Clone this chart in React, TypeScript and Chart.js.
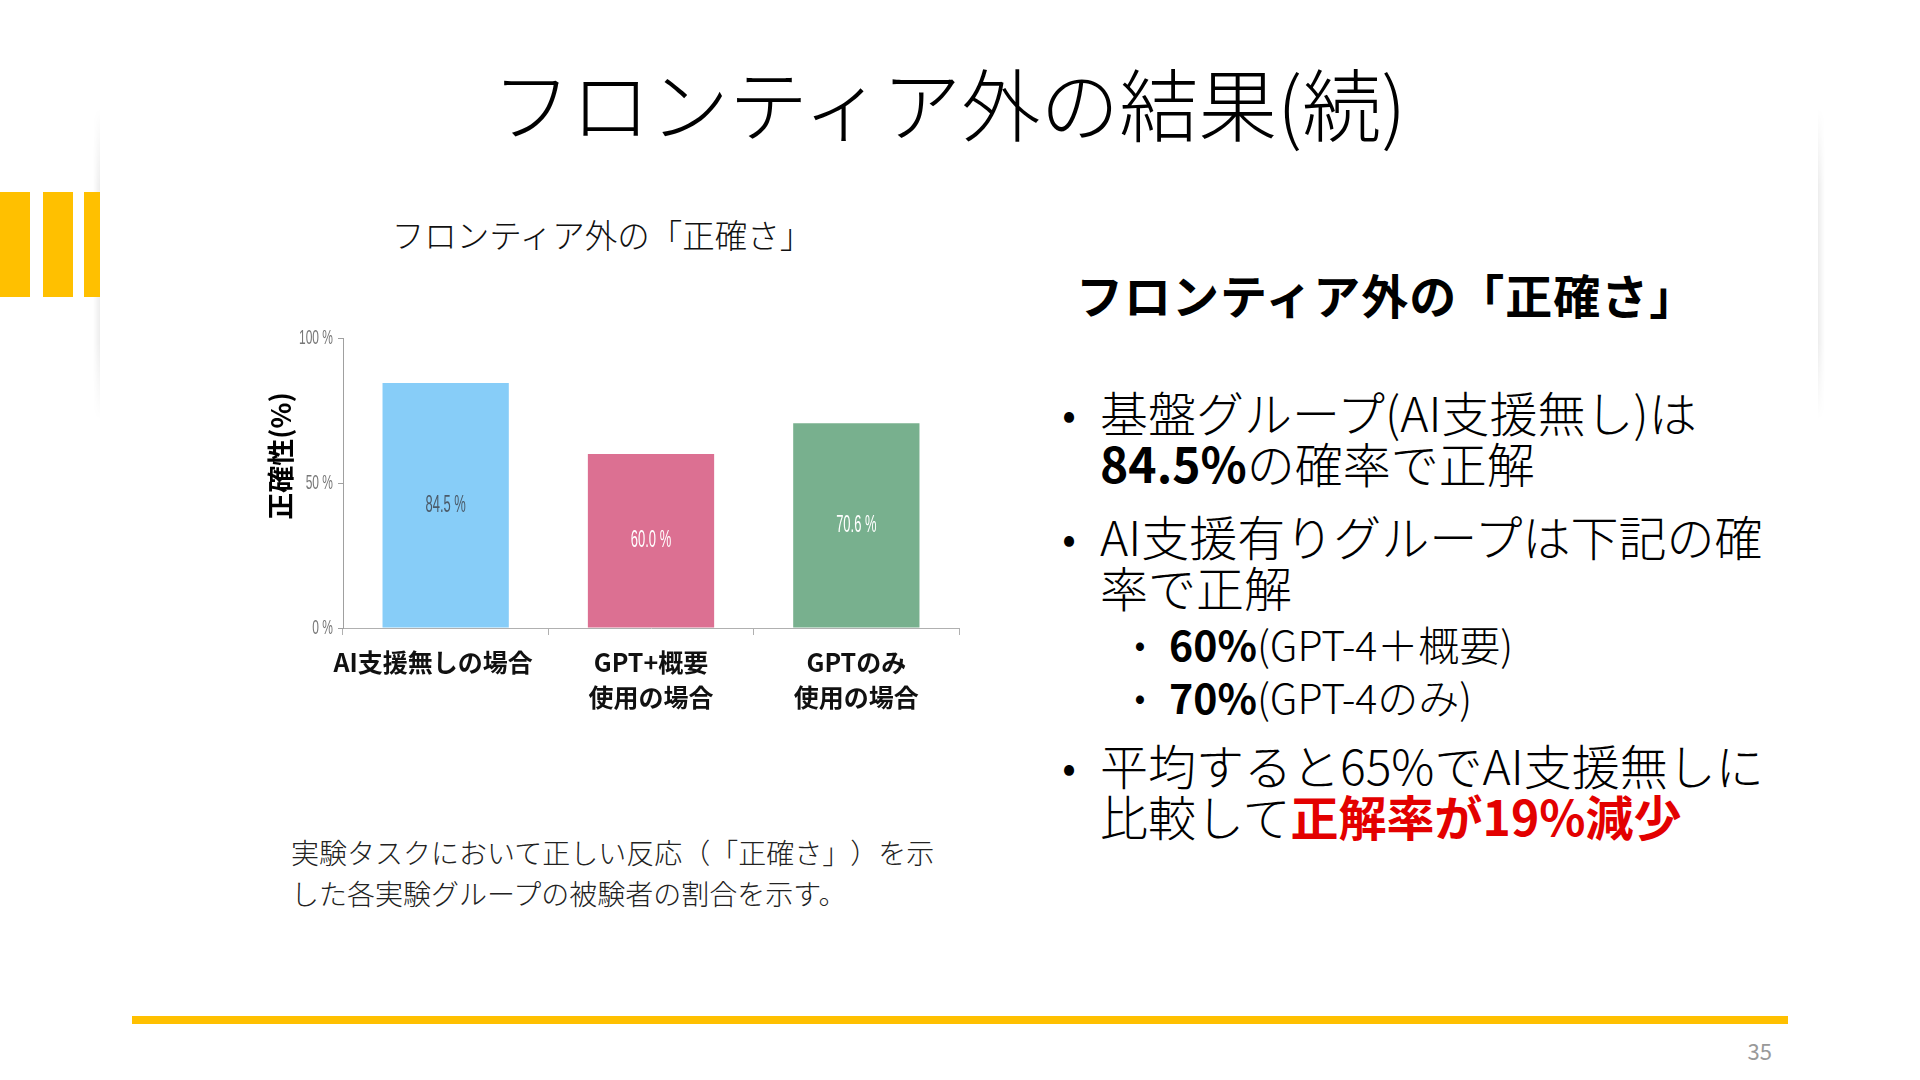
import React, { useEffect, useRef } from 'react';
import { Chart, registerables, type ChartConfiguration, type Plugin } from 'chart.js';

Chart.register(...registerables);

// Chart data
const categories: string[][] = [['AI支援無しの場合　'], ['GPT+概要', '使用の場合'], ['GPTのみ', '使用の場合']];
const accuracy = [84.5, 60.0, 70.6];
const barColors = ['#87cdf8', '#dc7092', '#78b08e'];
const valueLabelColors = ['#4b5a68', '#ffffff', '#ffffff'];
const yMin = 0;
const yMax = 100;
const yStep = 50;

const JP = "'Noto Sans CJK JP', 'Noto Sans', sans-serif";
const SANS = "'Liberation Sans', Arial, sans-serif";
const GOLD = '#ffc000';

// The slide uses a very condensed face for numbers; squeeze the text horizontally
const drawNarrow = (
  ctx: CanvasRenderingContext2D,
  text: string,
  x: number,
  y: number,
  align: CanvasTextAlign,
  squeeze: number
) => {
  ctx.save();
  ctx.translate(x, y);
  ctx.scale(squeeze, 1);
  ctx.textAlign = align;
  ctx.fillText(text, 0, 0);
  ctx.restore();
};

// Value in the middle of each bar
const valueLabels: Plugin<'bar'> = {
  id: 'valueLabels',
  afterDatasetsDraw(chart) {
    const { ctx } = chart;
    const meta = chart.getDatasetMeta(0);
    ctx.save();
    ctx.font = `24px ${SANS}`;
    ctx.textBaseline = 'middle';
    meta.data.forEach((bar, i) => {
      const { x, y, base } = bar.getProps(['x', 'y', 'base'], true) as { x: number; y: number; base: number };
      ctx.fillStyle = valueLabelColors[i];
      drawNarrow(ctx, `${accuracy[i].toFixed(1)} %`, x, (y + base) / 2, 'center', 0.54);
    });
    ctx.restore();
  }
};

// Condensed y tick labels placed from the y scale's own ticks
const narrowYTicks: Plugin<'bar'> = {
  id: 'narrowYTicks',
  afterDraw(chart) {
    const scale = chart.scales.y;
    const { ctx } = chart;
    ctx.save();
    ctx.font = `21px ${SANS}`;
    ctx.fillStyle = '#777';
    ctx.textBaseline = 'middle';
    scale.ticks.forEach((t) => {
      drawNarrow(ctx, `${t.value} %`, scale.right - 10, scale.getPixelForValue(t.value), 'right', 0.57);
    });
    ctx.restore();
  }
};

const AccuracyChart: React.FC = () => {
  const canvasRef = useRef<HTMLCanvasElement>(null);

  useEffect(() => {
    if (!canvasRef.current) return;
    const config: ChartConfiguration<'bar', number[], string[]> = {
      type: 'bar',
      data: {
        labels: categories,
        datasets: [
          {
            data: accuracy,
            backgroundColor: barColors,
            borderWidth: 0,
            categoryPercentage: 1,
            barPercentage: 0.615
          }
        ]
      },
      options: {
        responsive: true,
        maintainAspectRatio: false,
        animation: false,
        layout: { padding: { left: 1, right: 11, top: 18, bottom: 0 } },
        plugins: {
          legend: { display: false },
          tooltip: { enabled: false }
        },
        scales: {
          x: {
            grid: {
              drawOnChartArea: false,
              drawTicks: true,
              tickLength: 7,
              color: '#b0b0b0'
            },
            border: { display: true, color: '#b0b0b0', width: 1 },
            ticks: {
              color: '#111',
              padding: 10,
              maxRotation: 0,
              autoSkip: false,
              font: { family: JP, size: 25, weight: 'bold', lineHeight: 1.4 }
            },
            afterFit: (scale) => {
              scale.height = 102;
            }
          },
          y: {
            min: yMin,
            max: yMax,
            grid: {
              drawOnChartArea: false,
              drawTicks: true,
              tickLength: 5,
              color: '#a0a0a0'
            },
            border: { display: true, color: '#a0a0a0', width: 1 },
            ticks: {
              stepSize: yStep,
              display: false
            },
            title: {
              display: true,
              // leading ideographic spaces lift the visible label toward the top, as on the slide
              text: '　　正確性(%)',
              color: '#000',
              padding: { top: 4, bottom: 0 },
              font: { family: JP, size: 27, weight: 'bold', lineHeight: 1.2 }
            },
            afterFit: (scale) => {
              scale.width = 82;
            }
          }
        }
      },
      plugins: [valueLabels, narrowYTicks]
    };
    const chart = new Chart(canvasRef.current, config);
    return () => chart.destroy();
  }, []);

  return (
    <div style={{ position: 'absolute', left: 260, top: 320, width: 710, height: 410 }}>
      <canvas ref={canvasRef} />
    </div>
  );
};

const Bullet: React.FC<{ size: number; top: number }> = ({ size, top }) => (
  <span
    style={{
      position: 'absolute',
      left: 0,
      top,
      width: 20,
      textAlign: 'center',
      fontSize: size,
      lineHeight: 1,
      fontWeight: 400
    }}
  >
    •
  </span>
);

export default function App() {
  const abs = (left: number, top: number, extra: React.CSSProperties = {}): React.CSSProperties => ({
    position: 'absolute',
    left,
    top,
    whiteSpace: 'nowrap',
    ...extra
  });

  const para = (top: number): React.CSSProperties =>
    abs(1059, top, { fontSize: 48, lineHeight: '51px', fontWeight: 300, color: '#000' });

  return (
    <div
      style={{
        position: 'absolute',
        left: 0,
        top: 0,
        width: 1920,
        height: 1080,
        overflow: 'hidden',
        background: '#fff',
        fontFamily: JP,
        color: '#111',
        textSpacingTrim: 'space-all'
      } as React.CSSProperties}
    >
      {/* card edges */}
      {[93, 1818].map((x, i) => (
        <div
          key={x}
          style={{
            position: 'absolute',
            left: x,
            top: 108,
            width: 7,
            height: 312,
            background: `linear-gradient(to ${i === 0 ? 'right' : 'left'}, rgba(0,0,0,0), rgba(0,0,0,0.07))`,
            maskImage: 'linear-gradient(to bottom, transparent, black 25%, black 75%, transparent)',
            WebkitMaskImage: 'linear-gradient(to bottom, transparent, black 25%, black 75%, transparent)'
          }}
        />
      ))}

      {/* gold bars on the left */}
      <div style={{ position: 'absolute', left: 0, top: 192, width: 30, height: 105, background: GOLD }} />
      <div style={{ position: 'absolute', left: 43, top: 192, width: 30, height: 105, background: GOLD }} />
      <div style={{ position: 'absolute', left: 84, top: 192, width: 16, height: 105, background: GOLD }} />

      {/* slide title */}
      <div style={abs(0, 52, { width: 1898, textAlign: 'center', fontSize: 79, lineHeight: '100px', fontWeight: 300, color: '#000' })}>
        フロンティア外の結果(続)
      </div>

      {/* chart title */}
      <div style={abs(302, 214, { width: 600, textAlign: 'center', fontSize: 32.5, lineHeight: '40px', fontWeight: 300 })}>
        フロンティア外の「正確さ」
      </div>

      <AccuracyChart />

      {/* caption */}
      <div style={abs(291, 832, { fontSize: 28, lineHeight: '41px', fontWeight: 300, color: '#222' })}>
        実験タスクにおいて正しい反応（「正確さ」）を示
        <br />
        した各実験グループの被験者の割合を示す。
      </div>

      {/* right column */}
      <div style={abs(1076, 264, { fontSize: 47, lineHeight: '60px', fontWeight: 700, color: '#000', letterSpacing: 1 })}>
        フロンティア外の「正確さ」
      </div>

      <div style={para(386)}>
        <Bullet size={40} top={6} />
        <div style={{ marginLeft: 41 }}>
          基盤グループ(AI支援無し)は
          <br />
          <b style={{ fontWeight: 700 }}>84.5%</b>の確率で正解
        </div>
      </div>

      <div style={para(510)}>
        <Bullet size={40} top={6} />
        <div style={{ marginLeft: 41 }}>
          AI支援有りグループは下記の確
          <br />
          率で正解
        </div>
      </div>

      <div style={abs(1130, 617, { fontSize: 41, lineHeight: '53px', fontWeight: 300, color: '#000' })}>
        <div style={{ position: 'relative' }}>
          <Bullet size={32} top={9} />
          <div style={{ marginLeft: 39 }}>
            <b style={{ fontWeight: 700 }}>60%</b>(GPT-4＋概要)
          </div>
        </div>
        <div style={{ position: 'relative' }}>
          <Bullet size={32} top={9} />
          <div style={{ marginLeft: 39 }}>
            <b style={{ fontWeight: 700 }}>70%</b>(GPT-4のみ)
          </div>
        </div>
      </div>

      <div style={para(739)}>
        <Bullet size={40} top={6} />
        <div style={{ marginLeft: 41 }}>
          平均すると65%でAI支援無しに
          <br />
          比較して<b style={{ fontWeight: 700, color: '#e30000' }}>正解率が19%減少</b>
        </div>
      </div>

      {/* footer */}
      <div style={{ position: 'absolute', left: 132, top: 1016, width: 1656, height: 8, background: GOLD }} />
      <div style={abs(1700, 1037, { width: 72, textAlign: 'right', fontSize: 22, lineHeight: '26px', color: '#999' })}>35</div>
    </div>
  );
}
